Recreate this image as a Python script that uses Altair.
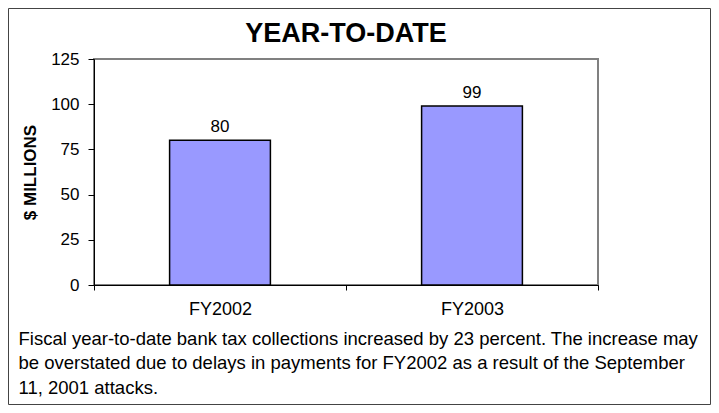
import altair as alt
import pandas as pd

categories = ["FY2002", "FY2003"]
values = [80, 99]
y_ticks = [0, 25, 50, 75, 100, 125]
title_text = "YEAR-TO-DATE"
y_title = "$ MILLIONS"
footnote = [
    "Fiscal year-to-date bank tax collections increased by 23 percent.  The increase may",
    "be overstated due to delays in payments for FY2002 as a result of the September",
    "11, 2001 attacks.",
]

df = pd.DataFrame({"year": categories, "value": values})
FONT = "Liberation Sans"

W, H = 504, 226
PAD = {"left": 86, "top": 51, "right": 113, "bottom": 120}

x_enc = alt.X(
    "year:N",
    sort=categories,
    scale=alt.Scale(paddingInner=0, paddingOuter=0),
    axis=alt.Axis(
        title=footnote,
        titleAlign="left",
        titleAnchor="start",
        titleX=-76,
        titleY=59,
        titleBaseline="alphabetic",
        titleFontWeight="normal",
        titleFontSize=18.5,
        titleLineHeight=24.5,
        titleFont=FONT,
        titleColor="black",
        labelAngle=0,
        labelFont=FONT,
        labelFontSize=18,
        labelColor="black",
        labelPadding=10,
        tickBand="extent",
        tickSize=5,
        tickColor="black",
        domainColor="black",
        grid=False,
    ),
)
y_enc = alt.Y(
    "value:Q",
    scale=alt.Scale(domain=[0, 125], nice=False),
    axis=alt.Axis(
        values=y_ticks,
        title=y_title,
        titleFont=FONT,
        titleFontSize=17,
        titleFontWeight="bold",
        titleColor="black",
        titleAngle=-90,
        titleX=-64,
        titleY=H / 2,
        titleAlign="center",
        titleBaseline="middle",
        labelFont=FONT,
        labelFontSize=17,
        labelColor="black",
        labelPadding=9,
        tickSize=6,
        tickColor="black",
        domainColor="black",
        grid=False,
    ),
)

bars = alt.Chart(df).mark_bar(
    color="#9999FF", stroke="black", strokeWidth=1.5,
    width=alt.RelativeBandSize(0.4),
).encode(x=x_enc, y=y_enc)

labels = alt.Chart(df).mark_text(
    font=FONT, fontSize=17, color="black", baseline="alphabetic", dy=-8
).encode(x=alt.X("year:N", sort=categories), y="value:Q", text="value:Q")

frame = alt.Chart(pd.DataFrame({"f": [0]})).mark_rect(
    fill=None, stroke="#444444", strokeWidth=1
).encode(
    x=alt.value(-PAD["left"] + 0.5),
    x2=alt.value(W + PAD["right"] - 0.5),
    y=alt.value(-PAD["top"] + 0.5),
    y2=alt.value(H + PAD["bottom"] - 0.5),
)

chart = alt.layer(bars, labels, frame).properties(
    width=W,
    height=H,
    padding=PAD,
    autosize=alt.AutoSizeParams(type="none"),
    title=alt.TitleParams(
        title_text, font=FONT, fontSize=27, fontWeight="bold", color="black",
        anchor="middle", baseline="alphabetic", offset=0, dy=61,
    ),
).configure_view(stroke="#808080", strokeWidth=2)

chart.save("out.html", embed_options={"renderer": "svg", "actions": False})
